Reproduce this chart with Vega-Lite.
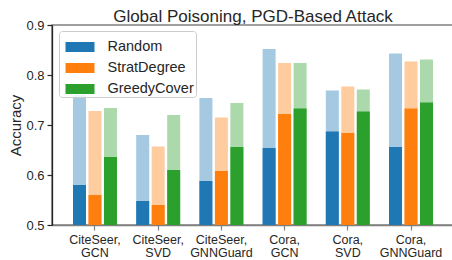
{
  "$schema": "https://vega.github.io/schema/vega-lite/v6.json",
  "autosize": "none",
  "padding": {"left": 52, "top": 25, "right": 0, "bottom": 35},
  "width": 402,
  "height": 200,
  "background": "white",
  "title": {"text": "Global Poisoning, PGD-Based Attack", "font": "Liberation Sans", "fontSize": 17, "fontWeight": "normal", "color": "#262626", "offset": -7},
  "config": {
    "view": {"stroke": "#808080", "strokeWidth": 1.6},
    "font": "Liberation Sans"
  },
  "data": {"values": [
    {"group": "CiteSeer, GCN", "method": "Random", "full": 0.76, "solid": 0.58},
    {"group": "CiteSeer, GCN", "method": "StratDegree", "full": 0.728, "solid": 0.56},
    {"group": "CiteSeer, GCN", "method": "GreedyCover", "full": 0.734, "solid": 0.636},
    {"group": "CiteSeer, SVD", "method": "Random", "full": 0.68, "solid": 0.548},
    {"group": "CiteSeer, SVD", "method": "StratDegree", "full": 0.657, "solid": 0.54},
    {"group": "CiteSeer, SVD", "method": "GreedyCover", "full": 0.72, "solid": 0.61},
    {"group": "CiteSeer, GNNGuard", "method": "Random", "full": 0.754, "solid": 0.588},
    {"group": "CiteSeer, GNNGuard", "method": "StratDegree", "full": 0.715, "solid": 0.608},
    {"group": "CiteSeer, GNNGuard", "method": "GreedyCover", "full": 0.744, "solid": 0.656},
    {"group": "Cora, GCN", "method": "Random", "full": 0.852, "solid": 0.654},
    {"group": "Cora, GCN", "method": "StratDegree", "full": 0.824, "solid": 0.722},
    {"group": "Cora, GCN", "method": "GreedyCover", "full": 0.824, "solid": 0.733},
    {"group": "Cora, SVD", "method": "Random", "full": 0.769, "solid": 0.687},
    {"group": "Cora, SVD", "method": "StratDegree", "full": 0.777, "solid": 0.684},
    {"group": "Cora, SVD", "method": "GreedyCover", "full": 0.771, "solid": 0.727},
    {"group": "Cora, GNNGuard", "method": "Random", "full": 0.843, "solid": 0.656},
    {"group": "Cora, GNNGuard", "method": "StratDegree", "full": 0.827, "solid": 0.733},
    {"group": "Cora, GNNGuard", "method": "GreedyCover", "full": 0.831, "solid": 0.745}
  ]},
  "encoding": {
    "x": {
      "field": "group", "type": "nominal", "sort": null,
      "scale": {"paddingInner": 0, "paddingOuter": 0.18},
      "axis": {
        "title": null, "labelAngle": 0, "labelExpr": "split(datum.label, ' ')",
        "labelFont": "Liberation Sans", "labelFontSize": 12.5, "labelColor": "#262626", "labelLineHeight": 13,
        "labelPadding": 3, "tickColor": "#808080", "tickSize": 5, "tickWidth": 1.2,
        "domainColor": "#808080", "domainWidth": 1.6, "grid": false
      }
    },
    "xOffset": {
      "field": "method", "type": "nominal", "sort": ["Random", "StratDegree", "GreedyCover"],
      "scale": {"paddingInner": 0.16, "paddingOuter": 0.62}
    },
    "color": {
      "field": "method", "type": "nominal", "sort": ["Random", "StratDegree", "GreedyCover"],
      "scale": {"domain": ["Random", "StratDegree", "GreedyCover"], "range": ["#1f77b4", "#ff7f0e", "#2ca02c"]},
      "legend": {
        "title": null, "orient": "none", "legendX": 7, "legendY": 6,
        "symbolType": "M-1,-0.345H1V0.345H-1Z", "symbolSize": 841, "symbolOpacity": 1, "symbolStrokeWidth": 0, "symbolOffset": 5,
        "labelFont": "Liberation Sans", "labelFontSize": 14.5, "labelColor": "#262626", "labelOffset": 13,
        "rowPadding": -4.5, "padding": 1.5, "strokeColor": "#cccccc", "fillColor": "rgba(255,255,255,0.8)", "cornerRadius": 3
      }
    }
  },
  "layer": [
    {
      "mark": {"type": "bar", "opacity": 0.4},
      "encoding": {
        "y": {
          "field": "full", "type": "quantitative",
          "scale": {"domain": [0.5, 0.9], "zero": false, "nice": false},
          "axis": {
            "title": "Accuracy", "titleFont": "Liberation Sans", "titleFontSize": 15, "titleFontWeight": "normal", "titleColor": "#262626", "titlePadding": 2,
            "values": [0.5, 0.6, 0.7, 0.8, 0.9], "format": ".1f",
            "labelFont": "Liberation Sans", "labelFontSize": 13, "labelColor": "#262626", "labelPadding": 3,
            "tickColor": "#262626", "tickSize": 5, "tickWidth": 1.2,
            "domainColor": "#262626", "domainWidth": 1.3, "grid": false
          }
        },
        "y2": {"datum": 0.5}
      }
    },
    {
      "mark": {"type": "bar"},
      "encoding": {
        "y": {"field": "solid", "type": "quantitative"},
        "y2": {"datum": 0.5}
      }
    }
  ]
}
